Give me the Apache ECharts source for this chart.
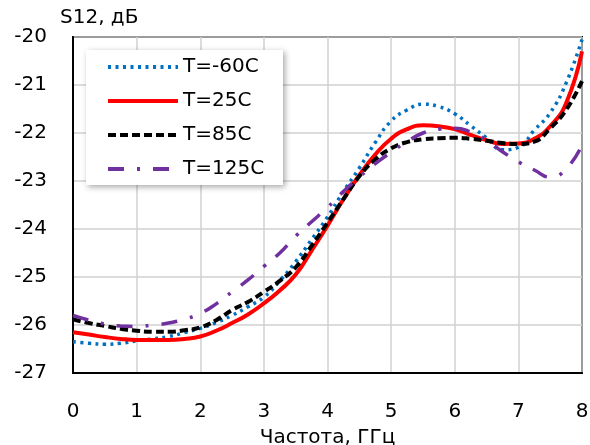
<!DOCTYPE html>
<html>
<head>
<meta charset="utf-8">
<script src="https://cdn.jsdelivr.net/npm/echarts@6/dist/echarts.min.js"></script>
<style>
  html, body { margin: 0; padding: 0; background: #fff; }
  #chart { width: 590px; height: 445px; }
</style>
</head>
<body>
<div id="chart"></div>
<script>
// Frequency points, GHz
const freq = [0, 0.25, 0.5, 0.75, 1, 1.25, 1.5, 1.75, 2, 2.25, 2.5, 2.75, 3, 3.25, 3.5, 3.75, 4,
  4.25, 4.5, 4.75, 5, 5.25, 5.5, 5.75, 6, 6.25, 6.5, 6.75, 7, 7.25, 7.5, 7.75, 8];

// S12, dB for each temperature
const sMinus60 = [-26.35, -26.38, -26.4, -26.38, -26.33, -26.29, -26.24, -26.16, -26.07, -25.95, -25.8, -25.62, -25.42, -25.08, -24.68, -24.22, -23.75,
  -23.22, -22.73, -22.2, -21.75, -21.52, -21.4, -21.45, -21.6, -21.85, -22.1, -22.35, -22.3, -21.94, -21.58, -20.96, -20.05];
const s25 = [-26.15, -26.2, -26.25, -26.29, -26.31, -26.31, -26.31, -26.29, -26.24, -26.12, -25.96, -25.78, -25.55, -25.28, -24.95, -24.45, -23.93,
  -23.38, -22.88, -22.45, -22.12, -21.92, -21.84, -21.86, -21.92, -22.04, -22.15, -22.23, -22.22, -22.12, -21.86, -21.38, -20.3];
const s85 = [-25.88, -25.96, -26.02, -26.08, -26.12, -26.14, -26.14, -26.11, -26.05, -25.9, -25.69, -25.52, -25.31, -25.08, -24.8, -24.35, -23.87,
  -23.38, -22.9, -22.55, -22.32, -22.19, -22.13, -22.11, -22.1, -22.12, -22.16, -22.21, -22.23, -22.18, -21.9, -21.52, -20.92];
const s125 = [-25.8, -25.9, -25.98, -26.02, -26.03, -26.0, -25.96, -25.88, -25.76, -25.56, -25.31, -25.06, -24.78, -24.5, -24.15, -23.85, -23.55,
  -23.22, -22.92, -22.64, -22.4, -22.18, -22.0, -21.92, -21.9, -21.98, -22.15, -22.39, -22.6, -22.77, -22.92, -22.75, -22.25];

const seriesNames = ['T=-60C', 'T=25C', 'T=85C', 'T=125C'];
const yTicks = [-27, -26, -25, -24, -23, -22, -21, -20];
const xTicks = [0, 1, 2, 3, 4, 5, 6, 7, 8];

const FONT = '"DejaVu Sans", sans-serif';

function pairs(ys) { return freq.map((f, i) => [f, ys[i]]); }

const chart = echarts.init(document.getElementById('chart'), null, { renderer: 'canvas' });

chart.setOption({
  animation: false,
  backgroundColor: '#ffffff',
  title: {
    text: 'S12, дБ', left: 60, top: 8, padding: 0,
    textStyle: { fontFamily: FONT, fontSize: 20, fontWeight: 'normal', color: '#000' }
  },
  grid: {
    left: 73, right: 8, top: 37, bottom: 72, outerBoundsMode: 'none',
    show: true, borderColor: '#000', borderWidth: 2
  },
  xAxis: {
    type: 'value', min: xTicks[0], max: xTicks[xTicks.length - 1], interval: 1,
    name: 'Частота, ГГц', nameLocation: 'middle', nameGap: 55,
    nameTextStyle: { fontFamily: FONT, fontSize: 20, color: '#000' },
    axisLine: { show: true, lineStyle: { color: '#000', width: 2 } },
    axisTick: { show: false },
    axisLabel: { fontFamily: FONT, fontSize: 20, color: '#000', margin: 29 },
    splitLine: { show: true, lineStyle: { color: '#d0d0d0', width: 1.5 } }
  },
  yAxis: {
    type: 'value', min: yTicks[0], max: yTicks[yTicks.length - 1], interval: 1,
    axisLine: { show: true, lineStyle: { color: '#000', width: 2 } },
    axisTick: { show: false },
    axisLabel: { fontFamily: FONT, fontSize: 20, color: '#000', margin: 26 },
    splitLine: { show: true, lineStyle: { color: '#d0d0d0', width: 1.5 } }
  },
  // white legend panel with a soft drop shadow
  graphic: [{
    type: 'rect', left: 86, top: 50, z: 3,
    shape: { width: 197, height: 135 },
    style: { fill: '#ffffff', shadowColor: 'rgba(0,0,0,0.35)', shadowBlur: 6, shadowOffsetX: 2, shadowOffsetY: 2 }
  }],
  legend: {
    data: seriesNames,
    orient: 'vertical',
    left: 86, top: 50,
    backgroundColor: 'transparent',
    borderWidth: 0,
    padding: [6, 20, 5, 20],
    itemWidth: 70, itemHeight: 14, itemGap: 12,
    itemStyle: { color: 'rgba(0,0,0,0)', borderColor: 'rgba(0,0,0,0)', borderWidth: 0 },
    lineStyle: { width: 4 },
    textStyle: { fontFamily: FONT, fontSize: 20, color: '#000', lineHeight: 22 }
  },
  series: [
    {
      name: seriesNames[0], type: 'line', data: pairs(sMinus60), smooth: true, symbol: 'none',
      lineStyle: { color: '#0070C0', width: 3.5, type: [3, 4.5], cap: 'butt' }, itemStyle: { color: '#0070C0' }
    },
    {
      name: seriesNames[1], type: 'line', data: pairs(s25), smooth: true, symbol: 'none',
      lineStyle: { color: '#FF0000', width: 4, type: 'solid' }, itemStyle: { color: '#FF0000' }
    },
    {
      name: seriesNames[2], type: 'line', data: pairs(s85), smooth: true, symbol: 'none',
      lineStyle: { color: '#000000', width: 4, type: [8, 4], cap: 'butt' }, itemStyle: { color: '#000000' }
    },
    {
      name: seriesNames[3], type: 'line', data: pairs(s125), smooth: true, symbol: 'none',
      lineStyle: { color: '#7030A0', width: 3.5, type: [16, 13, 3, 13], cap: 'butt' }, itemStyle: { color: '#7030A0' }
    }
  ]
});
</script>
</body>
</html>
